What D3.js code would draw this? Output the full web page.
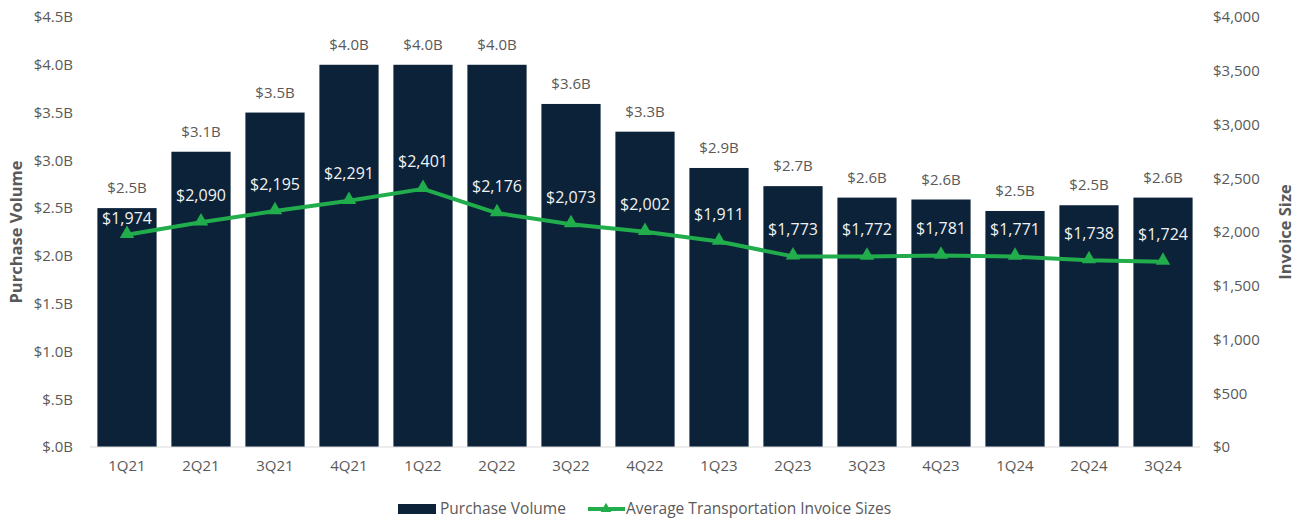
<!DOCTYPE html>
<html>
<head>
<meta charset="utf-8">
<script src="https://cdn.jsdelivr.net/npm/d3@7"></script>
<style>
  body { margin: 0; background: #fff; }
  text { font-family: "Open Sans", "Noto Sans", sans-serif; }
</style>
</head>
<body>
<div id="chart"></div>
<script>
// Data
let quarters = ['1Q21', '2Q21', '3Q21', '4Q21', '1Q22', '2Q22', '3Q22', '4Q22',
  '1Q23', '2Q23', '3Q23', '4Q23', '1Q24', '2Q24', '3Q24'];
let purchaseVolume = [2.5, 3.09, 3.5, 4.0, 4.0, 4.0, 3.59, 3.3, 2.92, 2.73, 2.61, 2.59, 2.47, 2.53, 2.61];
let invoiceSize = [1974, 2090, 2195, 2291, 2401, 2176, 2073, 2002, 1911, 1773, 1772, 1781, 1771, 1738, 1724];
let leftTicks = [0, 0.5, 1, 1.5, 2, 2.5, 3, 3.5, 4, 4.5];
let rightTicks = [0, 500, 1000, 1500, 2000, 2500, 3000, 3500, 4000];

// Set up SVG
let svgWidth = 1302;
let svgHeight = 523;
let margin = { top: 17, right: 102, bottom: 76, left: 90 };
let width = svgWidth - margin.left - margin.right;
let height = svgHeight - margin.top - margin.bottom;

let barColor = '#0b2239';
let lineColor = '#21ad4b';
let gray = '#595959';

let svg = d3.select('#chart').append('svg')
  .attr('width', svgWidth)
  .attr('height', svgHeight);

let chartGroup = svg.append('g')
  .attr('transform', `translate(${margin.left}, ${margin.top})`);

// Scales
let xScale = d3.scaleBand()
  .domain(quarters)
  .range([0, width])
  .paddingInner(0.2)
  .paddingOuter(0.1);

let yLeft = d3.scaleLinear().domain([0, 4.5]).range([height, 0]);
let yRight = d3.scaleLinear().domain([0, 4000]).range([height, 0]);

// Left axis
let leftAxis = d3.axisLeft(yLeft)
  .tickValues(leftTicks)
  .tickSize(0)
  .tickPadding(17)
  .tickFormat(d => '$' + d3.format('.1f')(d).replace(/^0/, '') + 'B');

chartGroup.append('g')
  .call(leftAxis)
  .call(g => g.select('.domain').remove())
  .selectAll('text')
  .attr('fill', gray)
  .style('font-size', '15px');

// Right axis
let rightAxis = d3.axisRight(yRight)
  .tickValues(rightTicks)
  .tickSize(0)
  .tickPadding(13)
  .tickFormat(d => '$' + d3.format(',')(d));

chartGroup.append('g')
  .attr('transform', `translate(${width}, 0)`)
  .call(rightAxis)
  .call(g => g.select('.domain').remove())
  .selectAll('text')
  .attr('fill', gray)
  .style('font-size', '15px');

// Bars
chartGroup.selectAll('.bar')
  .data(purchaseVolume)
  .enter()
  .append('rect')
  .classed('bar', true)
  .attr('x', (d, i) => xScale(quarters[i]))
  .attr('y', d => yLeft(d))
  .attr('width', xScale.bandwidth())
  .attr('height', d => height - yLeft(d))
  .attr('fill', barColor);

// Baseline
chartGroup.append('line')
  .attr('x1', 0)
  .attr('x2', width)
  .attr('y1', height)
  .attr('y2', height)
  .attr('stroke', '#d9d9d9')
  .attr('stroke-width', 1);

// Bottom axis
let bottomAxis = d3.axisBottom(xScale).tickSize(0).tickPadding(13);
chartGroup.append('g')
  .attr('transform', `translate(0, ${height})`)
  .call(bottomAxis)
  .call(g => g.select('.domain').remove())
  .selectAll('text')
  .attr('fill', gray)
  .style('font-size', '15px');

// Bar labels
chartGroup.selectAll('.barLabel')
  .data(purchaseVolume)
  .enter()
  .append('text')
  .classed('barLabel', true)
  .attr('x', (d, i) => xScale(quarters[i]) + xScale.bandwidth() / 2)
  .attr('y', d => yLeft(d) - 20)
  .attr('dy', '0.35em')
  .attr('text-anchor', 'middle')
  .attr('fill', gray)
  .style('font-size', '15px')
  .text(d => '$' + d3.format('.1f')(d) + 'B');

// Line
let cx = i => xScale(quarters[i]) + xScale.bandwidth() / 2;
let line = d3.line()
  .x((d, i) => cx(i))
  .y(d => yRight(d));

chartGroup.append('path')
  .datum(invoiceSize)
  .attr('d', line)
  .attr('fill', 'none')
  .attr('stroke', lineColor)
  .attr('stroke-width', 4)
  .attr('stroke-linejoin', 'round');

chartGroup.selectAll('.marker')
  .data(invoiceSize)
  .enter()
  .append('path')
  .classed('marker', true)
  .attr('d', d3.symbol().type(d3.symbolTriangle).size(90))
  .attr('transform', (d, i) => `translate(${cx(i)}, ${yRight(d) - 1})`)
  .attr('fill', lineColor);

// Line labels (kept inside the bar when the bar top is close)
chartGroup.selectAll('.lineLabel')
  .data(invoiceSize)
  .enter()
  .append('text')
  .classed('lineLabel', true)
  .attr('x', (d, i) => cx(i))
  .attr('y', (d, i) => Math.max(yRight(d) - 27, yLeft(purchaseVolume[i]) + 10))
  .attr('dy', '0.35em')
  .attr('text-anchor', 'middle')
  .attr('fill', '#f2f2f2')
  .style('font-size', '16px')
  .text(d => '$' + d3.format(',')(d));

// Axis titles
svg.append('text')
  .attr('transform', `translate(16, ${margin.top + height / 2}) rotate(-90)`)
  .attr('dy', '0.35em')
  .attr('text-anchor', 'middle')
  .attr('fill', gray)
  .style('font-size', '16.5px')
  .style('font-weight', 'bold')
  .text('Purchase Volume');

svg.append('text')
  .attr('transform', `translate(1285, ${margin.top + height / 2}) rotate(-90)`)
  .attr('dy', '0.35em')
  .attr('text-anchor', 'middle')
  .attr('fill', gray)
  .style('font-size', '16.5px')
  .style('font-weight', 'bold')
  .text('Invoice Size');

// Legend
let legend = svg.append('g').attr('transform', 'translate(0, 509)');
legend.append('rect')
  .attr('x', 398).attr('y', -5)
  .attr('width', 38).attr('height', 10)
  .attr('fill', barColor);
legend.append('text')
  .attr('x', 440).attr('dy', '0.35em')
  .attr('fill', gray)
  .style('font-size', '15.5px')
  .text('Purchase Volume');
legend.append('line')
  .attr('x1', 588).attr('x2', 625)
  .attr('stroke', lineColor).attr('stroke-width', 4);
legend.append('path')
  .attr('d', d3.symbol().type(d3.symbolTriangle).size(50))
  .attr('transform', 'translate(606, 0)')
  .attr('fill', lineColor);
legend.append('text')
  .attr('x', 626).attr('dy', '0.35em')
  .attr('fill', gray)
  .style('font-size', '15.5px')
  .text('Average Transportation Invoice Sizes');
</script>
</body>
</html>
